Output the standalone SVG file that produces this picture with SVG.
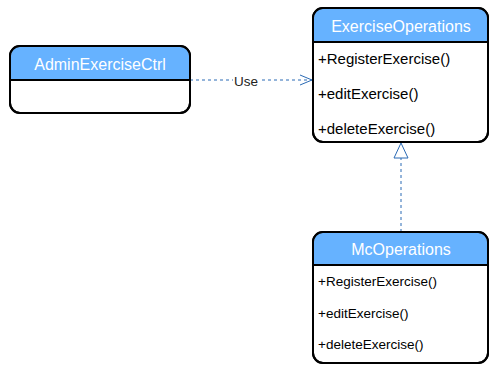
<svg xmlns="http://www.w3.org/2000/svg" width="489" height="365" viewBox="0 0 489 365">
<style>
.hdr{fill:#66b2ff;stroke:none}
.box{fill:#fff;stroke:#000;stroke-width:2}
.ttl{font-family:"Liberation Sans",Arial,sans-serif;font-size:16px;fill:#fff;text-anchor:middle}
.m{font-family:"Liberation Sans",Arial,sans-serif;font-size:15px;fill:#000}
.m2{font-family:"Liberation Sans",Arial,sans-serif;font-size:13.5px;fill:#000}
.ln{stroke:#000;stroke-width:2}
.cn{fill:none;stroke:#2a6ab5;stroke-width:1;stroke-dasharray:3 3}
</style>
<defs>
<marker id="open" markerWidth="14" markerHeight="12" refX="13" refY="6" orient="auto" markerUnits="userSpaceOnUse">
<path d="M1,1 L13,6 L1,11" fill="none" stroke="#2a6ab5" stroke-width="1"/>
</marker>
<marker id="tri" markerWidth="18" markerHeight="18" refX="16" refY="8" orient="auto" markerUnits="userSpaceOnUse">
<path d="M1,1 L16,8 L1,15 Z" fill="#fff" stroke="#2a6ab5" stroke-width="1"/>
</marker>
</defs>
<g id="connectors">
<path class="cn" d="M190,80 L312,80" marker-end="url(#open)"/>
<rect x="233" y="73" width="26" height="15" fill="#fff"/>
<text class="m2" x="246" y="86" text-anchor="middle" style="fill:#222">Use</text>
<path class="cn" d="M401,232 L401,143" marker-end="url(#tri)"/>
</g>
<g id="AdminExerciseCtrl">
<rect class="box" x="10" y="46" width="180" height="67" rx="10"/>
<path class="hdr" d="M11,80 L11,56 Q11,47 20,47 L180,47 Q189,47 189,56 L189,80 Z"/>
<line class="ln" x1="10" y1="80" x2="190" y2="80"/>
<rect x="10" y="46" width="180" height="67" rx="10" fill="none" stroke="#000" stroke-width="2"/>
<text class="ttl" x="100" y="70">AdminExerciseCtrl</text>
</g>
<g id="ExerciseOperations">
<rect class="box" x="313" y="8" width="175" height="134" rx="10"/>
<path class="hdr" d="M314,42 L314,18 Q314,9 323,9 L478,9 Q487,9 487,18 L487,42 Z"/>
<line class="ln" x1="313" y1="42" x2="488" y2="42"/>
<rect x="313" y="8" width="175" height="134" rx="10" fill="none" stroke="#000" stroke-width="2"/>
<text class="ttl" x="401" y="32">ExerciseOperations</text>
<text class="m" x="318" y="64">+RegisterExercise()</text>
<text class="m" x="318" y="99">+editExercise()</text>
<text class="m" x="318" y="134">+deleteExercise()</text>
</g>
<g id="McOperations">
<rect class="box" x="313" y="232" width="175" height="131" rx="10"/>
<path class="hdr" d="M314,265 L314,242 Q314,233 323,233 L478,233 Q487,233 487,242 L487,265 Z"/>
<line class="ln" x1="313" y1="265" x2="488" y2="265"/>
<rect x="313" y="232" width="175" height="131" rx="10" fill="none" stroke="#000" stroke-width="2"/>
<text class="ttl" x="401" y="255">McOperations</text>
<text class="m2" x="318" y="286">+RegisterExercise()</text>
<text class="m2" x="318" y="318">+editExercise()</text>
<text class="m2" x="318" y="349">+deleteExercise()</text>
</g>
</svg>
